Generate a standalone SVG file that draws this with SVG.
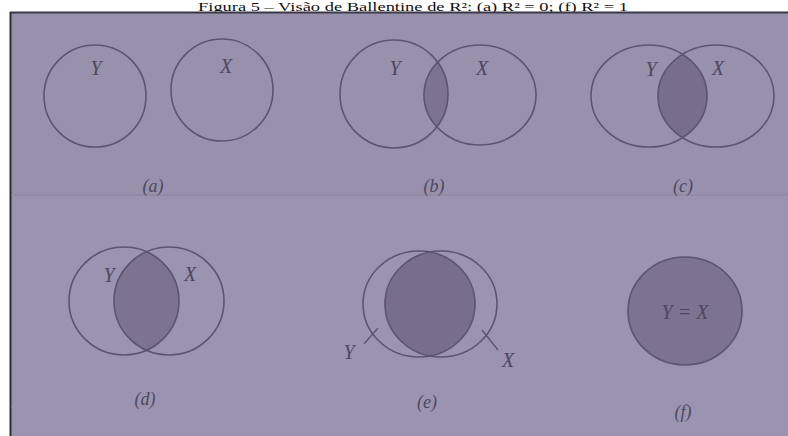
<svg xmlns="http://www.w3.org/2000/svg" width="788" height="436" viewBox="0 0 788 436">
<defs>
<style>
.c{fill:none;stroke:#5b556e;stroke-width:1.6}
.t{font-family:"Liberation Serif",serif;font-style:italic;font-size:20px;fill:#4d4860;text-anchor:middle}
.cap{font-family:"Liberation Serif",serif;font-style:italic;font-size:18px;fill:#4d4860;text-anchor:middle}
.ptr{stroke:#5b556e;stroke-width:1.4;fill:none}
</style>
<clipPath id="clipB"><circle cx="394" cy="94" r="54"/></clipPath>
<clipPath id="clipC"><ellipse cx="649" cy="96" rx="58" ry="51"/></clipPath>
<clipPath id="clipD"><ellipse cx="124" cy="301" rx="55" ry="54"/></clipPath>
<clipPath id="clipE"><ellipse cx="419" cy="304" rx="56" ry="53"/></clipPath>
</defs>
<rect width="788" height="436" fill="#ffffff"/>
<text x="198" y="10.5" font-family="Liberation Serif,serif" font-size="12.5" fill="#111" textLength="430" lengthAdjust="spacingAndGlyphs">Figura 5 – Visão de Ballentine de R²: (a) R² = 0; (f) R² = 1</text>
<rect x="10" y="12" width="778" height="424" fill="#9a94b0"/>
<rect x="11" y="13" width="777" height="182" fill="#9791ac"/>
<line x1="10" y1="12.5" x2="788" y2="12.5" stroke="#3a3848" stroke-width="2"/>
<line x1="10.5" y1="12" x2="10.5" y2="436" stroke="#2e2c38" stroke-width="2"/>
<line x1="11" y1="195" x2="788" y2="195" stroke="#8a8299" stroke-width="1"/>
<line x1="11" y1="407" x2="788" y2="407" stroke="#a08fa8" stroke-width="1" opacity="0.6"/>

<g id="panel-a">
<circle class="c" cx="95" cy="96" r="51"/>
<circle class="c" cx="222" cy="90" r="51"/>
<text class="t" x="96" y="75">Y</text>
<text class="t" x="226" y="73">X</text>
<text class="cap" x="153" y="192">(a)</text>
</g>

<g id="panel-b">
<ellipse cx="480" cy="95" rx="56" ry="50" fill="#7c7390" clip-path="url(#clipB)"/>
<circle class="c" cx="394" cy="94" r="54"/>
<ellipse class="c" cx="480" cy="95" rx="56" ry="50"/>
<text class="t" x="395" y="75">Y</text>
<text class="t" x="482" y="75">X</text>
<text class="cap" x="434" y="192">(b)</text>
</g>

<g id="panel-c">
<ellipse cx="716" cy="96" rx="58" ry="51" fill="#776e8c" clip-path="url(#clipC)"/>
<ellipse class="c" cx="649" cy="96" rx="58" ry="51"/>
<ellipse class="c" cx="716" cy="96" rx="58" ry="51"/>
<text class="t" x="651" y="76">Y</text>
<text class="t" x="718" y="75">X</text>
<text class="cap" x="683" y="192">(c)</text>
</g>

<g id="panel-d">
<ellipse cx="169" cy="301" rx="55" ry="54" fill="#7c7390" clip-path="url(#clipD)"/>
<ellipse class="c" cx="124" cy="301" rx="55" ry="54"/>
<ellipse class="c" cx="169" cy="301" rx="55" ry="54"/>
<text class="t" x="109" y="282">Y</text>
<text class="t" x="190" y="281">X</text>
<text class="cap" x="145" y="405">(d)</text>
</g>

<g id="panel-e">
<ellipse cx="441" cy="304" rx="56" ry="53" fill="#776e8c" clip-path="url(#clipE)"/>
<ellipse class="c" cx="419" cy="304" rx="56" ry="53"/>
<ellipse class="c" cx="441" cy="304" rx="56" ry="53"/>
<text class="t" x="349" y="359">Y</text>
<text class="t" x="508" y="367">X</text>
<text class="cap" x="427" y="408">(e)</text>
</g>

<g id="panel-f">
<ellipse cx="685" cy="311" rx="57" ry="54" fill="#7c7390" stroke="#5b556e" stroke-width="1.6"/>
<text class="t" x="685" y="319" font-style="normal" font-size="22">Y = X</text>
<text class="cap" x="683" y="418">(f)</text>
</g>

<g id="connectors">
<line class="ptr" x1="378" y1="328" x2="364" y2="344"/>
<line class="ptr" x1="482" y1="330" x2="498" y2="350"/>
</g>
</svg>
